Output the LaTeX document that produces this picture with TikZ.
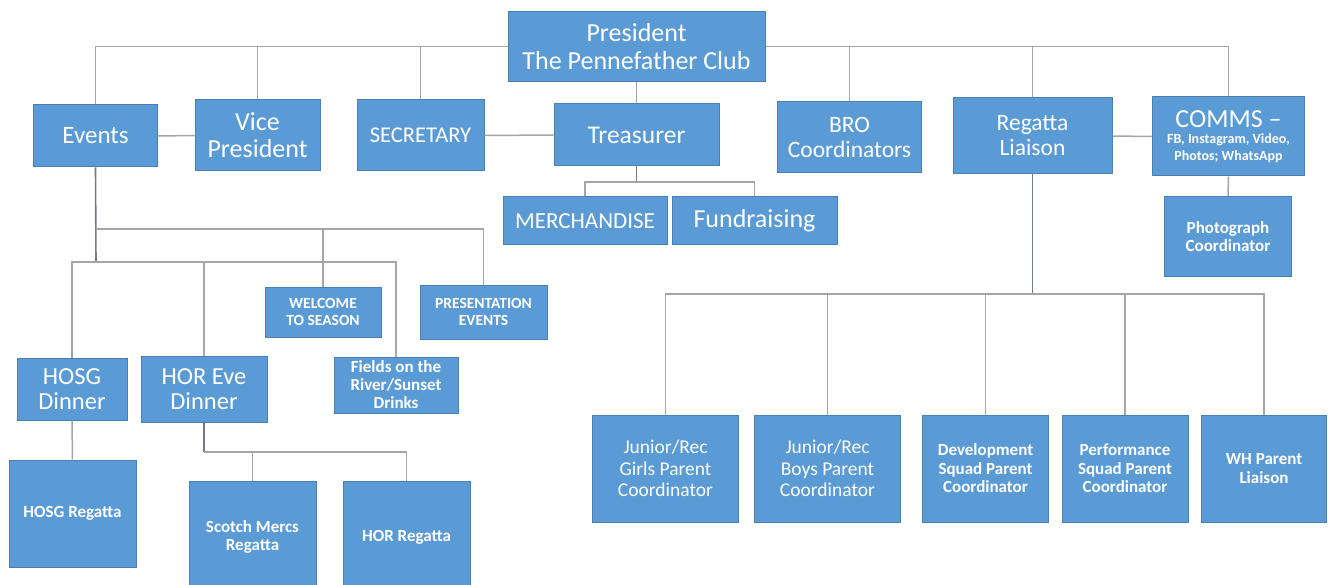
\documentclass[tikz,border=0pt]{standalone}
\usepackage{fontspec}
\setmainfont{Carlito}
\definecolor{boxfill}{HTML}{5B9BD5}
\definecolor{boxline}{HTML}{4A7FB3}
\definecolor{lightln}{HTML}{A3A7AC}
\definecolor{darkln}{HTML}{737B86}
\begin{document}
\begin{tikzpicture}[x=1pt,y=-1pt,
  box/.style={draw=boxline, fill=boxfill, text=white, align=center, inner sep=0pt, line width=1pt},
  fsz/.style n args={2}{font=\fontsize{#1}{#2}\selectfont},
  fszb/.style n args={2}{font=\fontsize{#1}{#2}\selectfont\bfseries},
  conn/.style={draw=lightln, line width=1.5pt},
  trunk/.style={draw=darkln, line width=1.6pt}]
\useasboundingbox (0,0) rectangle (1332,585);
\clip (0,0) rectangle (1332,585);
\fill[white] (0,0) rectangle (1332,585);
% top row
\node[box, fsz={26}{28}, minimum width=257pt, minimum height=70pt] (pres) at (636.5,46.5) {President\\The Pennefather Club};
\node[box, fsz={25}{27}, minimum width=124pt, minimum height=62pt] (events) at (95.5,136) {Events};
\node[box, fsz={26}{27}, minimum width=125pt, minimum height=71pt] (vp) at (257.5,135.5) {Vice\\President};
\node[box, fsz={22.5}{25}, minimum width=127pt, minimum height=71pt] (sec) at (420.5,135.5) {SECRETARY};
\node[box, fsz={25.5}{27}, minimum width=165pt, minimum height=62pt] (treas) at (636.5,135) {Treasurer};
\node[box, fsz={23.5}{25}, minimum width=144pt, minimum height=71pt] (bro) at (849.5,137.5) {BRO\\Coordinators};
\node[box, fsz={23.5}{25}, minimum width=159pt, minimum height=76pt] (reg) at (1032.5,136) {Regatta\\Liaison};
\node[box, fszb={14}{17}, minimum width=152pt, minimum height=79pt] (comms) at (1228.5,136.5) {{\fontsize{26}{26}\selectfont\mdseries COMMS –}\\[-1pt]FB, Instagram, Video,\\Photos; WhatsApp};
\node[box, fszb={17}{18.5}, minimum width=127pt, minimum height=80pt] (photo) at (1228,236.5) {Photograph\\Coordinator};
\node[box, fsz={23}{25}, minimum width=164pt, minimum height=48pt] (merch) at (585,221) {MERCHANDISE};
\node[box, fsz={26}{28}, minimum width=165pt, minimum height=48pt] (fund) at (754.5,221) {Fundraising};
% events children
\node[box, fszb={15.5}{17.5}, minimum width=116pt, minimum height=50pt] (welcome) at (323,312) {WELCOME\\TO SEASON};
\node[box, fszb={15.5}{17.5}, minimum width=127pt, minimum height=54pt] (presev) at (483.5,312) {PRESENTATION\\EVENTS};
\node[box, fsz={24.5}{25}, minimum width=110pt, minimum height=62pt] (hosgd) at (72,389) {HOSG\\Dinner};
\node[box, fsz={24.5}{25}, minimum width=126pt, minimum height=66pt] (horeve) at (204,389) {HOR Eve\\Dinner};
\node[box, fszb={17}{18}, minimum width=124pt, minimum height=56pt] (fields) at (396,385) {Fields on the\\River/Sunset\\Drinks};
\node[box, fszb={17}{18.5}, minimum width=127pt, minimum height=107pt] (hosgr) at (72.5,513.5) {HOSG Regatta};
\node[box, fszb={17}{18.5}, minimum width=127pt, minimum height=112pt] (scotch) at (252.5,537) {Scotch Mercs\\Regatta};
\node[box, fszb={17}{18.5}, minimum width=127pt, minimum height=112pt] (horreg) at (406.5,537) {HOR Regatta};
% regatta children
\node[box, fsz={19.5}{21.5}, minimum width=146pt, minimum height=107pt] (girls) at (665.5,468.5) {Junior/Rec\\Girls Parent\\Coordinator};
\node[box, fsz={19.5}{21.5}, minimum width=146pt, minimum height=107pt] (boys) at (827.5,468.5) {Junior/Rec\\Boys Parent\\Coordinator};
\node[box, fszb={17}{18.5}, minimum width=126pt, minimum height=107pt] (dev) at (985.5,468.5) {Development\\Squad Parent\\Coordinator};
\node[box, fszb={17}{18.5}, minimum width=126pt, minimum height=107pt] (perf) at (1125,468.5) {Performance\\Squad Parent\\Coordinator};
\node[box, fszb={17}{18.5}, minimum width=125pt, minimum height=107pt] (wh) at (1264,468.5) {WH Parent\\Liaison};
% bus coordinates
\coordinate (ebusA) at (96,229);
\coordinate (ebusB) at (96,262);
\coordinate (tbus) at (636.5,182);
\coordinate (rbus) at (1032.5,294);
\coordinate (hbus) at (204,452);
% connectors
\draw[conn] (pres.west) -| (events.north);
\draw[conn] (pres.west) -| (vp.north);
\draw[conn] (pres.west) -| (sec.north);
\draw[conn] (pres.east) -| (bro.north);
\draw[conn] (pres.east) -| (reg.north);
\draw[conn] (pres.east) -| (comms.north);
\draw[conn] (pres.south) -- (treas.north);
\draw[conn] (events.east) -- (vp.west);
\draw[conn] (sec.east) -- (treas.west);
\draw[conn] (reg.east) -- (comms.west);
\draw[conn] (comms.south) -- (photo.north);
\draw[trunk] (treas.south) -- (tbus);
\draw[conn] (tbus) -| (merch.north);
\draw[conn] (tbus) -| (fund.north);
\draw[trunk] (events.south) -- (ebusB);
\draw[conn] (ebusA) -| (welcome.north);
\draw[conn] (ebusA) -| (presev.north);
\draw[conn] (ebusB) -| (hosgd.north);
\draw[conn] (ebusB) -| (horeve.north);
\draw[conn] (ebusB) -| (fields.north);
\draw[conn] (hosgd.south) -- (hosgr.north);
\draw[trunk] (horeve.south) -- (hbus);
\draw[conn] (hbus) -| (scotch.north);
\draw[conn] (hbus) -| (horreg.north);
\draw[trunk] (reg.south) -- (rbus);
\draw[conn] (rbus) -| (girls.north);
\draw[conn] (rbus) -| (boys.north);
\draw[conn] (rbus) -| (dev.north);
\draw[conn] (rbus) -| (perf.north);
\draw[conn] (rbus) -| (wh.north);
\end{tikzpicture}
\end{document}
